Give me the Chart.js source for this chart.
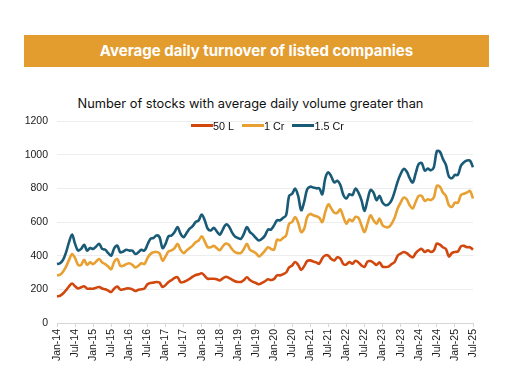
<!DOCTYPE html>
<html>
<head>
<meta charset="utf-8">
<script src="https://cdn.jsdelivr.net/npm/chart.js@4.4.1/dist/chart.umd.min.js"></script>
<style>
    html, body { margin: 0; padding: 0; background: #fff; }
    body { width: 513px; height: 381px; position: relative; overflow: hidden; }
    .banner {
        position: absolute; left: 24px; top: 35px; width: 465px; height: 32px;
        background: #e39c2e; color: #fff; font-family: Inter, sans-serif;
        font-weight: 700; font-size: 15px; line-height: 32px; text-align: center;
    }
    .subtitle {
        position: absolute; left: 0; top: 96px; width: 501px; text-align: center;
        font-family: Inter, sans-serif; font-size: 12.8px; color: #111;
    }
    #wrap { position: absolute; left: 0; top: 101px; width: 513px; height: 280px; }
    #legend {
        position: absolute; left: 191px; top: 119px; height: 13px;
        display: flex; align-items: center;
        font-family: "Liberation Sans", Arial, sans-serif; font-size: 10.8px; color: #111;
    }
    #legend .item { display: flex; align-items: center; margin-right: 8px; }
    #legend .swatch { width: 22px; height: 2.6px; }
</style>
</head>
<body>
<div class="banner">Average daily turnover of listed companies</div>
<div class="subtitle">Number of stocks with average daily volume greater than</div>
<div id="wrap"><canvas id="turnoverChart"></canvas></div>
<div id="legend"></div>

<script>
// monthly, Jan-14 .. Jul-25
const monthNames = ['Jan','Feb','Mar','Apr','May','Jun','Jul','Aug','Sep','Oct','Nov','Dec'];
const months = [];
for (let y = 14; y <= 25; y++) {
    for (let m = 0; m < 12; m++) {
        if (y === 25 && m > 6) break;
        months.push(monthNames[m] + '-' + y);
    }
}

const yTicks = [0, 200, 400, 600, 800, 1000, 1200];

// Above 50 lakh
const vol50L = [
    158, 162, 175, 195, 218, 235, 218, 205, 212, 218, 204, 204,
    204, 210, 214, 205, 200, 192, 184, 205, 216, 198, 200, 205,
    205, 200, 190, 198, 200, 205, 230, 238, 240, 244, 240, 214,
    225, 244, 255, 268, 272, 242, 244, 252, 262, 275, 285, 289,
    295, 280, 263, 263, 263, 260, 253, 265, 275, 268, 258, 248,
    244, 244, 255, 272, 255, 244, 238, 230, 238, 248, 260, 255,
    262, 283, 283, 290, 300, 330, 342, 362, 345, 315, 338, 368,
    372, 365, 360, 352, 385, 402, 400, 380, 372, 390, 382, 350,
    348, 362, 352, 370, 360, 342, 333, 365, 368, 358, 345, 360,
    335, 333, 335, 350, 362, 400, 412, 422, 415, 400, 390, 415,
    432, 440, 422, 432, 422, 430, 472, 465, 450, 440, 395, 415,
    422, 425, 455, 458, 450, 450, 436
];

// Above 1 crore
const vol1Cr = [
    283, 287, 305, 335, 375, 410, 385, 345, 345, 375, 345, 360,
    350, 365, 380, 360, 350, 335, 320, 365, 380, 340, 340, 350,
    355, 345, 330, 340, 355, 350, 385, 410, 420, 422, 415, 370,
    395, 425, 432, 445, 470, 435, 415, 430, 445, 460, 480, 490,
    515, 485, 450, 450, 458, 445, 432, 455, 472, 465, 440, 422,
    415, 416, 440, 470, 435, 425, 415, 395, 410, 430, 450, 440,
    435, 495, 490, 505, 520, 590, 600, 630, 595, 540, 560, 630,
    648, 640, 634, 625, 600, 660, 705, 680, 655, 655, 675, 630,
    590, 615, 605, 630, 625, 580, 540, 590, 640, 610, 590, 620,
    580, 570, 570, 590, 625, 680, 715, 745, 735, 700, 680, 720,
    755, 755, 725, 735, 730, 745, 815, 810, 775, 755, 700, 690,
    715, 715, 760, 768, 775, 785, 740
];

// Above 1.5 crore
const vol15Cr = [
    350, 355, 375, 420, 480, 525, 470, 430, 440, 465, 430, 445,
    440, 455, 470, 440, 435, 415, 400, 445, 460, 420, 425, 435,
    430, 430, 410, 420, 435, 430, 465, 500, 505, 520, 510, 445,
    470, 515, 520, 540, 570, 530, 510, 535, 560, 575, 600, 610,
    645, 610, 560, 550, 565, 545, 525, 555, 585, 575, 540, 515,
    505, 500, 530, 570, 540, 525, 505, 490, 500, 520, 555, 555,
    580, 610, 610, 625, 640, 755, 768, 798, 755, 670, 720, 795,
    810, 805, 800, 800, 765, 860, 895, 870, 835, 845, 820, 760,
    740, 765, 760, 798, 775, 730, 665, 730, 790, 775, 730, 755,
    715, 700, 705, 730, 780, 840, 885, 915, 900, 860, 835, 890,
    945, 950, 905, 917, 907, 925, 1020, 1018, 975, 940, 870, 860,
    880, 880, 935, 955, 965, 965, 925
];

const seriesLabels = ['50 L', '1 Cr', '1.5 Cr'];
const seriesColors = ['#d2470e', '#e8a032', '#195a77'];

function makeSet(label, data, color) {
    return {
        label: label,
        data: data,
        borderColor: color,
        backgroundColor: color,
        borderWidth: 2.6,
        pointRadius: 0,
        tension: 0.35,
        fill: false
    };
}

// legend sits inside the plot, just under the 1200 line
const legendBox = document.getElementById('legend');
seriesLabels.forEach((lbl, i) => {
    const item = document.createElement('div');
    item.className = 'item';
    const sw = document.createElement('div');
    sw.className = 'swatch';
    sw.style.background = seriesColors[i];
    const txt = document.createElement('span');
    txt.textContent = lbl;
    item.appendChild(sw);
    item.appendChild(txt);
    legendBox.appendChild(item);
});

const ctx = document.getElementById('turnoverChart').getContext('2d');

new Chart(ctx, {
    type: 'line',
    data: {
        labels: months,
        datasets: [
            makeSet(seriesLabels[0], vol50L, seriesColors[0]),
            makeSet(seriesLabels[1], vol1Cr, seriesColors[1]),
            makeSet(seriesLabels[2], vol15Cr, seriesColors[2])
        ]
    },
    options: {
        responsive: true,
        maintainAspectRatio: false,
        animation: false,
        layout: { padding: { left: 0, right: 40, top: 20, bottom: 0 } },
        plugins: {
            legend: { display: false },
            tooltip: { enabled: false }
        },
        scales: {
            x: {
                afterFit: scale => { scale.height = 58; },
                border: { color: '#d6d6d6' },
                grid: {
                    drawOnChartArea: false,
                    color: '#d6d6d6',
                    tickLength: 4
                },
                ticks: {
                    autoSkip: false,
                    minRotation: 90,
                    maxRotation: 90,
                    padding: 2,
                    color: '#1a1a1a',
                    font: { family: '"Liberation Sans", Arial, sans-serif', size: 10.5 },
                    callback: function (val, i) {
                        return i % 6 === 0 ? months[i] : null;
                    }
                }
            },
            y: {
                min: yTicks[0],
                max: yTicks[yTicks.length - 1],
                afterFit: scale => { scale.width = 57; },
                afterBuildTicks: scale => {
                    scale.ticks = yTicks.map(v => ({ value: v }));
                },
                border: { display: false },
                grid: { color: '#ededed', drawTicks: false },
                ticks: {
                    padding: 9,
                    color: '#1a1a1a',
                    font: { family: '"Liberation Sans", Arial, sans-serif', size: 10.5 },
                    callback: v => String(v)
                }
            }
        }
    }
});
</script>
</body>
</html>
